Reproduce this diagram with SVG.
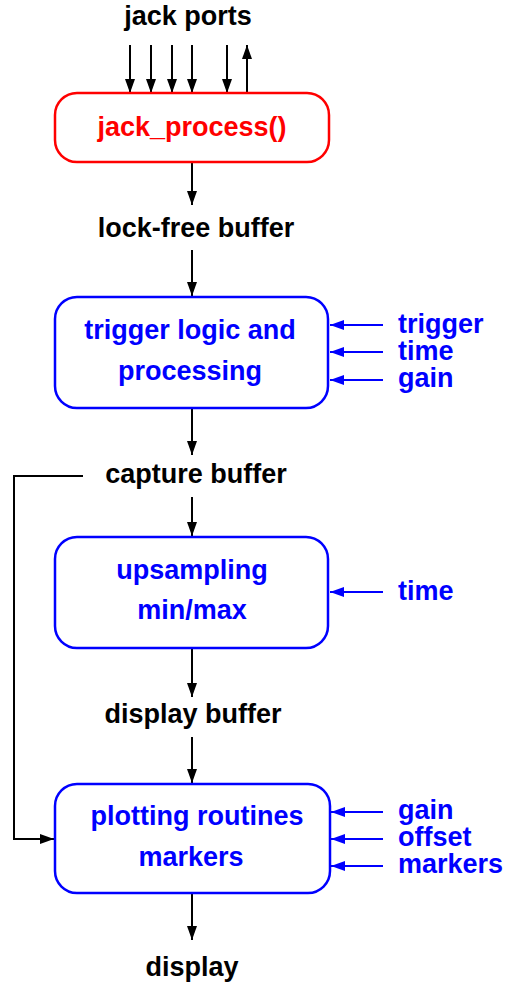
<svg xmlns="http://www.w3.org/2000/svg" width="509" height="982" viewBox="0 0 509 982">
  <style>
    text { font-family: "Liberation Sans", Arial, sans-serif; font-weight: bold; font-size: 27px; }
    .blk { fill: #000; }
    .red { fill: #f00; }
    .blu { fill: #00f; }
    .mid { text-anchor: middle; }
    .box { fill: #fff; stroke-width: 2.5; }
    .bbox { stroke: #00f; }
    .rbox { stroke: #f00; }
    .wire { fill: none; stroke: #000; stroke-width: 2; }
    .bwire { fill: none; stroke: #00f; stroke-width: 2; }
  </style>
  <defs>
    <marker id="ah" markerUnits="userSpaceOnUse" markerWidth="14" markerHeight="10" refX="14" refY="5" orient="auto">
      <path d="M0,0 L14,5 L0,10 z" fill="#000"/>
    </marker>
    <marker id="ahb" markerUnits="userSpaceOnUse" markerWidth="14" markerHeight="10" refX="14" refY="5" orient="auto">
      <path d="M0,0 L14,5 L0,10 z" fill="#00f"/>
    </marker>
  </defs>

  <!-- connectors -->
  <g id="connectors">
    <!-- jack ports -->
    <line class="wire" x1="130" y1="45" x2="130" y2="93" marker-end="url(#ah)"/>
    <line class="wire" x1="151" y1="45" x2="151" y2="93" marker-end="url(#ah)"/>
    <line class="wire" x1="172" y1="45" x2="172" y2="93" marker-end="url(#ah)"/>
    <line class="wire" x1="192" y1="45" x2="192" y2="93" marker-end="url(#ah)"/>
    <line class="wire" x1="227" y1="45" x2="227" y2="93" marker-end="url(#ah)"/>
    <line class="wire" x1="247" y1="93" x2="247" y2="45" marker-end="url(#ah)"/>
    <!-- main chain -->
    <line class="wire" x1="192" y1="162" x2="192" y2="205" marker-end="url(#ah)"/>
    <line class="wire" x1="192" y1="250" x2="192" y2="296" marker-end="url(#ah)"/>
    <line class="wire" x1="192" y1="408" x2="192" y2="455" marker-end="url(#ah)"/>
    <line class="wire" x1="192" y1="497" x2="192" y2="536" marker-end="url(#ah)"/>
    <line class="wire" x1="192" y1="648" x2="192" y2="697" marker-end="url(#ah)"/>
    <line class="wire" x1="192" y1="737" x2="192" y2="783" marker-end="url(#ah)"/>
    <line class="wire" x1="192" y1="893" x2="192" y2="940" marker-end="url(#ah)"/>
    <!-- capture buffer bypass -->
    <polyline class="wire" points="83,476 14,476 14,839 54,839" marker-end="url(#ah)"/>
    <!-- parameter inputs -->
    <line class="bwire" x1="383" y1="325" x2="330" y2="325" marker-end="url(#ahb)"/>
    <line class="bwire" x1="383" y1="352" x2="330" y2="352" marker-end="url(#ahb)"/>
    <line class="bwire" x1="383" y1="380" x2="330" y2="380" marker-end="url(#ahb)"/>
    <line class="bwire" x1="383" y1="592" x2="330" y2="592" marker-end="url(#ahb)"/>
    <line class="bwire" x1="383" y1="812" x2="331" y2="812" marker-end="url(#ahb)"/>
    <line class="bwire" x1="383" y1="839" x2="331" y2="839" marker-end="url(#ahb)"/>
    <line class="bwire" x1="383" y1="866" x2="331" y2="866" marker-end="url(#ahb)"/>
  </g>

  <g id="jack-ports">
    <text class="blk mid" x="188" y="25">jack ports</text>
  </g>

  <g id="jack-process">
    <rect class="box rbox" x="55" y="93" width="274" height="69" rx="22"/>
    <text class="red mid" x="192" y="136">jack_process()</text>
  </g>

  <g id="lock-free-buffer">
    <text class="blk mid" x="196" y="237">lock-free buffer</text>
  </g>

  <g id="trigger-logic">
    <rect class="box bbox" x="55" y="297" width="273" height="111" rx="22"/>
    <text class="blu mid" x="190" y="339">trigger logic and</text>
    <text class="blu mid" x="190" y="380">processing</text>
  </g>

  <g id="trigger-params">
    <text class="blu" x="398" y="333">trigger</text>
    <text class="blu" x="398" y="360">time</text>
    <text class="blu" x="398" y="387">gain</text>
  </g>

  <g id="capture-buffer">
    <text class="blk mid" x="196" y="483">capture buffer</text>
  </g>

  <g id="upsampling">
    <rect class="box bbox" x="55" y="537" width="273" height="111" rx="22"/>
    <text class="blu mid" x="192" y="579">upsampling</text>
    <text class="blu mid" x="192" y="619">min/max</text>
  </g>

  <g id="upsampling-params">
    <text class="blu" x="398" y="600">time</text>
  </g>

  <g id="display-buffer">
    <text class="blk mid" x="193" y="723">display buffer</text>
  </g>

  <g id="plotting">
    <rect class="box bbox" x="55" y="784" width="275" height="109" rx="22"/>
    <text class="blu mid" x="197" y="825">plotting routines</text>
    <text class="blu mid" x="191" y="866">markers</text>
  </g>

  <g id="plotting-params">
    <text class="blu" x="398" y="819">gain</text>
    <text class="blu" x="398" y="846">offset</text>
    <text class="blu" x="398" y="873">markers</text>
  </g>

  <g id="display">
    <text class="blk mid" x="192" y="976">display</text>
  </g>
</svg>
